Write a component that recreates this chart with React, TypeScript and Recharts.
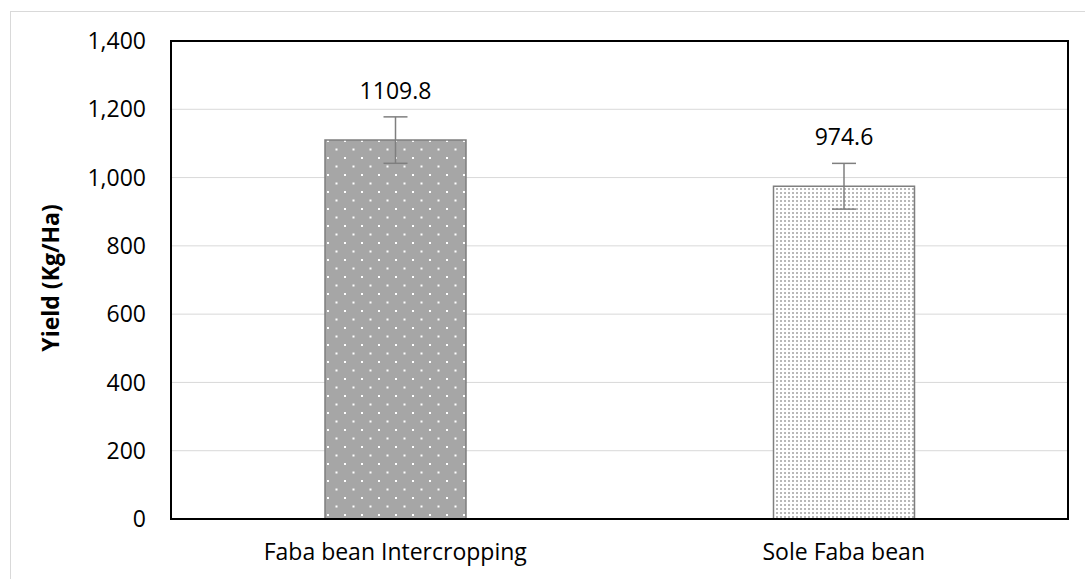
import React from 'react';
import {
  ComposedChart,
  Bar,
  XAxis,
  YAxis,
  CartesianGrid,
  ErrorBar,
  LabelList,
  Cell,
  Label,
  ReferenceArea,
} from 'recharts';

const categories = ['Faba bean Intercropping', 'Sole Faba bean'];
const yieldValues = [1109.8, 974.6];
const errorValues = [68, 67];
const yTicks = [0, 200, 400, 600, 800, 1000, 1200, 1400];
const patternIds = ['patDots', 'patFine'];

const data = categories.map((c, i) => ({ name: c, value: yieldValues[i], err: errorValues[i] }));

const FONT = '"Open Sans", "Noto Sans", sans-serif';

export default function App() {
  return (
    <div style={{ position: 'absolute', left: 0, top: 0, width: 1085, height: 579, background: '#fff' }}>
      <div
        style={{
          position: 'absolute',
          left: 10,
          top: 11,
          width: 1075,
          height: 568,
          borderTop: '1px solid #d9d9d9',
          borderLeft: '1px solid #d9d9d9',
          boxSizing: 'border-box',
        }}
      />
      <div style={{ position: 'absolute', left: 0, top: 0 }}>
        <ComposedChart
          width={1085}
          height={579}
          data={data}
          margin={{ top: 41, right: 17, bottom: 0, left: 0 }}
          style={{ fontFamily: FONT }}
        >
          <defs>
            <pattern id="patDots" patternUnits="userSpaceOnUse" width={17} height={17}>
              <rect x={0} y={0} width={17} height={17} fill="#a6a6a6" />
              <rect x={4} y={4} width={2} height={2} fill="#ffffff" />
              <rect x={12.5} y={12.5} width={2} height={2} fill="#ffffff" />
            </pattern>
            <pattern id="patFine" patternUnits="userSpaceOnUse" width={4} height={4}>
              <rect x={0} y={0} width={4} height={4} fill="#ffffff" />
              <rect x={0} y={0} width={2} height={2} fill="#b8b8b8" />
            </pattern>
          </defs>
          <CartesianGrid vertical={false} stroke="#d9d9d9" strokeWidth={1} />
          <XAxis
            dataKey="name"
            interval={0}
            tickLine={false}
            tickSize={0}
            tickMargin={25}
            height={60}
            axisLine={{ stroke: '#000', strokeWidth: 2 }}
            tick={{ fill: '#000', fontSize: 23, fontFamily: FONT }}
          />
          <YAxis
            domain={[0, 1400]}
            ticks={yTicks}
            width={171}
            tickLine={false}
            tickSize={0}
            tickMargin={25}
            axisLine={{ stroke: '#000', strokeWidth: 2 }}
            tick={{ fill: '#000', fontSize: 23, fontFamily: FONT }}
            tickFormatter={(v: number) => v.toLocaleString('en-US')}
            interval={0}
          >
            <Label
              content={(props: any) => {
                const vb = props.viewBox || { x: 0, y: 41, width: 171, height: 478 };
                const cx = vb.x + 50;
                const cy = vb.y + vb.height / 2 - 2;
                return (
                  <text
                    x={cx}
                    y={cy}
                    transform={`rotate(-90 ${cx} ${cy})`}
                    textAnchor="middle"
                    dominantBaseline="central"
                    fill="#000"
                    fontSize={23}
                    fontWeight="bold"
                    fontFamily={FONT}
                  >
                    Yield (Kg/Ha)
                  </text>
                );
              }}
            />
          </YAxis>
          <ReferenceArea
            y1={0}
            y2={1400}
            fill="none"
            fillOpacity={0}
            stroke="#000"
            strokeWidth={2}
            ifOverflow="visible"
          />
          <Bar dataKey="value" barSize={141} stroke="#7f7f7f" strokeWidth={1.5} isAnimationActive={false}>
            {data.map((d, i) => (
              <Cell key={d.name} fill={`url(#${patternIds[i]})`} />
            ))}
            <ErrorBar dataKey="err" width={12} stroke="#7f7f7f" strokeWidth={1.5} direction="y" />
            <LabelList
              dataKey="value"
              position="top"
              offset={41}
              fill="#000"
              fontSize={23}
              fontFamily={FONT}
            />
          </Bar>
        </ComposedChart>
      </div>
    </div>
  );
}
